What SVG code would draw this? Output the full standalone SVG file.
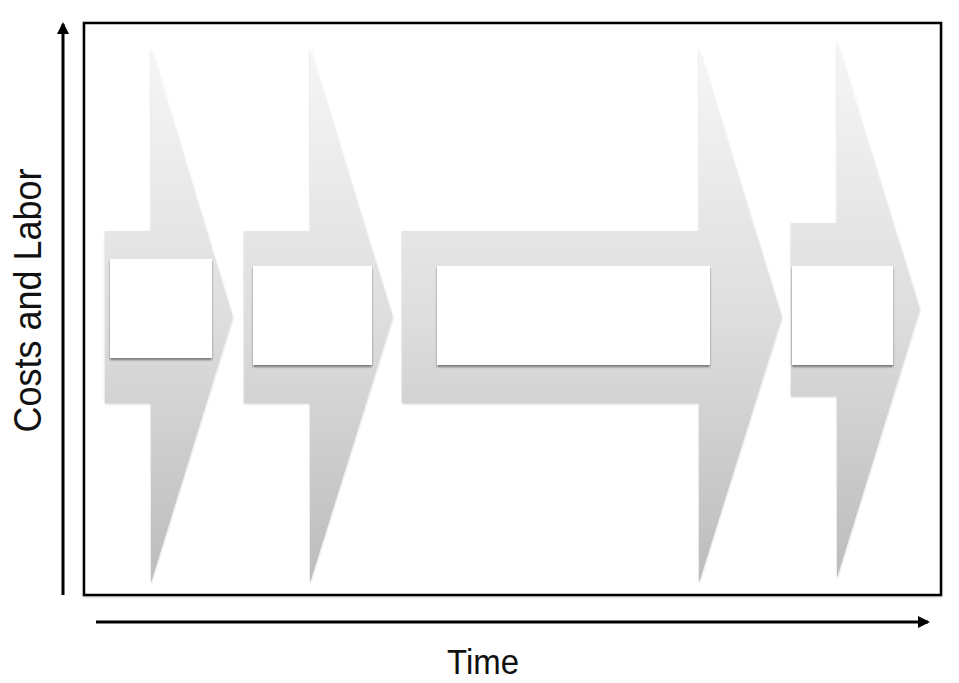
<svg xmlns="http://www.w3.org/2000/svg" width="959" height="683" viewBox="0 0 959 683">
<defs>
<linearGradient id="g" x1="0" y1="0" x2="0" y2="1">
<stop offset="0" stop-color="#f6f6f6"/>
<stop offset="0.5" stop-color="#dedede"/>
<stop offset="1" stop-color="#bcbcbc"/>
</linearGradient>
<filter id="sh" x="-10%" y="-10%" width="130%" height="130%">
<feGaussianBlur in="SourceAlpha" stdDeviation="1.2"/>
<feOffset dx="0" dy="2" result="b"/>
<feComponentTransfer><feFuncA type="linear" slope="0.45"/></feComponentTransfer>
<feMerge><feMergeNode/><feMergeNode in="SourceGraphic"/></feMerge>
</filter>
<filter id="sh2" x="-5%" y="-5%" width="110%" height="110%">
<feGaussianBlur in="SourceAlpha" stdDeviation="1"/>
<feOffset dx="0" dy="1" result="b"/>
<feComponentTransfer><feFuncA type="linear" slope="0.2"/></feComponentTransfer>
<feMerge><feMergeNode/><feMergeNode in="SourceGraphic"/></feMerge>
</filter>
<marker id="ah" markerWidth="12" markerHeight="12" viewBox="0 0 12 12" refX="10" refY="6" orient="auto" markerUnits="userSpaceOnUse">
<path d="M0,0 L12,6 L0,12 z" fill="#000"/>
</marker>
</defs>
<style>
.arrow{fill:url(#g);filter:url(#sh2)}
.box{fill:#fff;filter:url(#sh)}
.axis{stroke:#000;stroke-width:3;fill:none}
.lbl{font-family:"Liberation Sans",Arial,sans-serif;fill:#111}
</style>
<g id="frame">
<rect x="84" y="23" width="857" height="572" fill="#fff" stroke="#000" stroke-width="2.5" filter="url(#sh2)"/>
</g>
<g id="connectors">
<line class="axis" x1="63" y1="595" x2="63" y2="24" marker-end="url(#ah)"/>
<line class="axis" x1="96" y1="622" x2="928" y2="622" marker-end="url(#ah)"/>
</g>
<g id="phase1">
<polygon class="arrow" points="105,231 151,231 151,48 233,317 151,583 151,403 105,403"/>
<rect class="box" x="110" y="259" width="102" height="99"/>
</g>
<g id="phase2">
<polygon class="arrow" points="244,231 310,231 310,48 393,317 310,583 310,403 244,403"/>
<rect class="box" x="253" y="266" width="119" height="99"/>
</g>
<g id="phase3">
<polygon class="arrow" points="402,231 699,231 699,48 782,317 699,583 699,403 402,403"/>
<rect class="box" x="437" y="266" width="273" height="99"/>
</g>
<g id="phase4">
<polygon class="arrow" points="791,223 837,223 837,42 920,309 837,578 837,396 791,396"/>
<rect class="box" x="792" y="266" width="101" height="99"/>
</g>
<g id="labels">
<text class="lbl" x="483" y="674" font-size="35" text-anchor="middle" textLength="72" lengthAdjust="spacingAndGlyphs">Time</text>
<text class="lbl" transform="translate(41,300.5) rotate(-90)" font-size="38" text-anchor="middle" textLength="264" lengthAdjust="spacingAndGlyphs">Costs and Labor</text>
</g>
</svg>
